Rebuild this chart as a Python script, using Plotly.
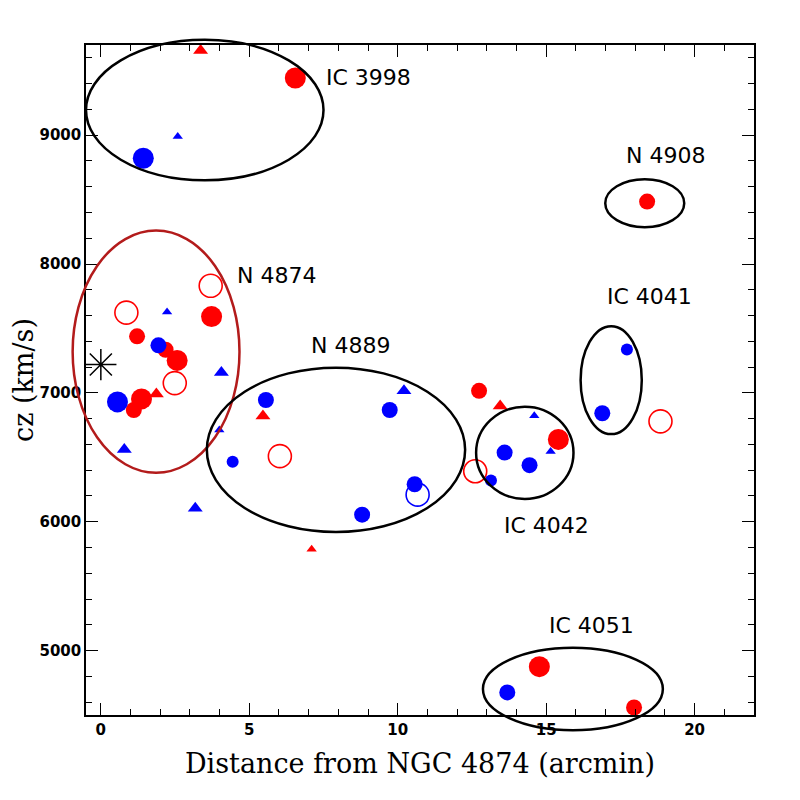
import plotly.graph_objects as go

# axis ranges
x_range = [-0.5, 22]
y_range = [4500, 9700]

# galaxies, split by colour / symbol / size
red_big_x = [6.55, 3.73, 2.57, 1.37, 15.41, 14.77]
red_big_y = [9444, 7592, 7252, 6953, 6639, 4875]
red_med_x = [1.22, 2.18, 1.11, 12.74, 18.40, 17.96]
red_med_y = [7439, 7335, 6867, 7016, 8485, 4558]
red_open_x = [3.70, 0.86, 2.49, 6.03, 12.61, 18.85]
red_open_y = [7831, 7623, 7076, 6509, 6392, 6779]

blue_big_x = [1.43, 0.56]
blue_big_y = [8821, 6930]
blue_med_x = [1.94, 5.56, 9.73, 10.57, 8.80, 13.60, 14.44, 16.89, 13.69]
blue_med_y = [7369, 6945, 6867, 6291, 6055, 6537, 6439, 6842, 4675]
blue_small_x = [4.44, 13.14, 17.72]
blue_small_y = [6465, 6320, 7337]
blue_open_x = [10.67]
blue_open_y = [6210]

red_tri_x = [3.36, 1.87, 5.46, 13.45]
red_tri_y = [9657, 6992, 6821, 6899]
red_tri_small_x = [7.10]
red_tri_small_y = [5787]
blue_tri_x = [4.06, 0.79, 3.18, 10.21]
blue_tri_y = [7158, 6561, 6104, 7016]
blue_tri_small_x = [2.59, 2.23, 3.99, 14.60, 15.15]
blue_tri_small_y = [8990, 7628, 6712, 6823, 6545]

bcg_x = [0]
bcg_y = [7220]

# groups: name, ellipse centre, half axes, label position
group_names = ["IC 3998", "N 4874", "N 4889", "IC 4042", "IC 4041", "N 4908", "IC 4051"]
ell_xc = [3.50, 1.86, 7.92, 14.28, 17.19, 18.32, 15.90]
ell_yc = [9195, 7320, 6558, 6535, 7099, 8472, 4702]
ell_a = [4.00, 2.81, 4.35, 1.64, 1.03, 1.33, 3.03]
ell_b = [545, 940, 638, 358, 419, 186, 320]
ell_col = ["black", "#b31b1b", "black", "black", "black", "black", "black"]
label_x = [9.01, 5.90, 8.41, 15.01, 18.49, 19.03, 16.52]
label_y = [9446, 7908, 7365, 5967, 7745, 8840, 5191]

RED = "#ff0000"
BLUE = "#0000ff"

fig = go.Figure()


def add(x, y, symbol, size, color, open_=False):
    if open_:
        marker = dict(symbol="circle-open", size=size, color=color, line=dict(width=1.6, color=color))
    else:
        marker = dict(symbol=symbol, size=size, color=color, line=dict(width=0))
    fig.add_trace(go.Scatter(x=x, y=y, mode="markers", marker=marker, cliponaxis=False, hoverinfo="x+y"))


add(red_big_x, red_big_y, "circle", 21, RED)
add(red_med_x, red_med_y, "circle", 16, RED)
add(red_open_x, red_open_y, "circle-open", 23, RED, open_=True)
add(blue_big_x, blue_big_y, "circle", 21, BLUE)
add(blue_med_x, blue_med_y, "circle", 16, BLUE)
add(blue_small_x, blue_small_y, "circle", 12, BLUE)
add(blue_open_x, blue_open_y, "circle-open", 23, BLUE, open_=True)
add(red_tri_x, red_tri_y, "triangle-up", 13, RED)
add(red_tri_small_x, red_tri_small_y, "triangle-up", 9, RED)
add(blue_tri_x, blue_tri_y, "triangle-up", 13, BLUE)
add(blue_tri_small_x, blue_tri_small_y, "triangle-up", 9, BLUE)
fig.add_trace(go.Scatter(x=bcg_x, y=bcg_y, mode="markers", cliponaxis=False,
                         marker=dict(symbol="asterisk-open", size=26, color="black",
                                     line=dict(width=1.5, color="black"))))


# ellipses go in paper coords so they are not clipped at the frame (as in the original)
def to_px(v):
    return (v - x_range[0]) / (x_range[1] - x_range[0])


def to_py(v):
    return (v - y_range[0]) / (y_range[1] - y_range[0])


for i in range(len(group_names)):
    fig.add_shape(type="circle", xref="paper", yref="paper",
                  x0=to_px(ell_xc[i] - ell_a[i]), x1=to_px(ell_xc[i] + ell_a[i]),
                  y0=to_py(ell_yc[i] - ell_b[i]), y1=to_py(ell_yc[i] + ell_b[i]),
                  line=dict(color=ell_col[i], width=2.5))
    fig.add_annotation(x=label_x[i], y=label_y[i], text=group_names[i], showarrow=False,
                       font=dict(family="DejaVu Sans", size=22, color="black"))

tickfont = dict(family="DejaVu Sans", size=15, color="black", weight="bold")
axis_common = dict(showgrid=False, zeroline=False, showline=True, linecolor="black", linewidth=1.5,
                   mirror="ticks", ticks="inside", ticklen=12, tickwidth=1.2, tickcolor="black",
                   tickfont=tickfont, automargin=False)

fig.update_xaxes(range=x_range, tick0=0, dtick=5,
                 minor=dict(ticks="inside", ticklen=6, dtick=1, tickcolor="black", tickwidth=1.2),
                 title=dict(text="Distance from NGC 4874 (arcmin)", standoff=16,
                            font=dict(family="DejaVu Serif", size=27, color="black")),
                 **axis_common)
fig.update_yaxes(range=y_range, tick0=5000, dtick=1000,
                 minor=dict(ticks="inside", ticklen=6, dtick=200, tickcolor="black", tickwidth=1.2),
                 title=dict(text="cz (km/s)", standoff=15,
                            font=dict(family="DejaVu Serif", size=27, color="black")),
                 **axis_common)

# the page adds an 8px body margin, so the margins are trimmed by that amount
fig.update_layout(width=800, height=800, showlegend=False,
                  plot_bgcolor="white", paper_bgcolor="white",
                  margin=dict(l=78, r=54, t=37, b=93))

fig.write_html("out.html")
